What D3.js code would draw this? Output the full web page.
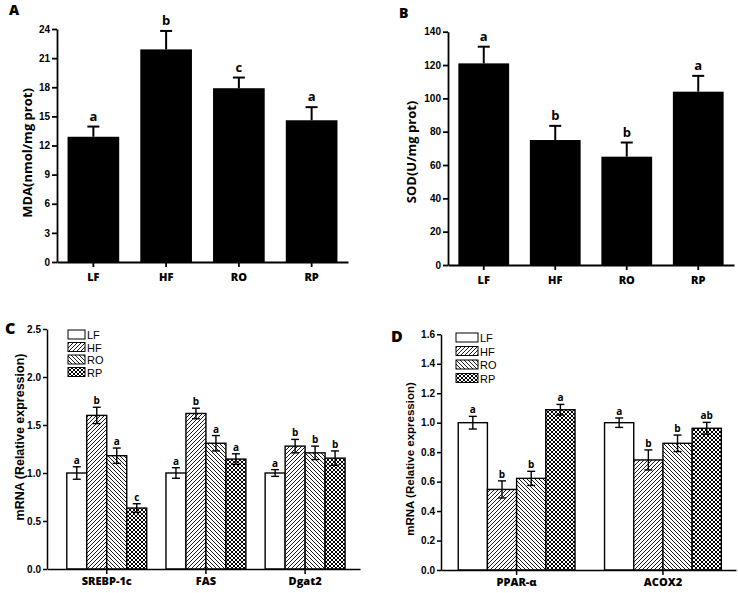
<!DOCTYPE html>
<html><head><meta charset="utf-8">
<script src="https://cdn.jsdelivr.net/npm/d3@7"></script>
<style>
body{margin:0;background:#fff;}
svg{display:block;}
</style></head>
<body>
<svg id="chart" width="738" height="593"></svg>
<script>
// ---------- DATA ----------
const groups = ["LF", "HF", "RO", "RP"];

const mdaMeans = [12.9, 21.9, 17.9, 14.6];
const mdaErr = [1.05, 1.9, 1.1, 1.35];
const mdaLetters = ["a", "b", "c", "a"];
const mdaTicks = [0, 3, 6, 9, 12, 15, 18, 21, 24];

const sodMeans = [121, 75, 65, 104];
const sodErr = [10, 8.5, 8.5, 9.5];
const sodLetters = ["a", "b", "b", "a"];
const sodTicks = [0, 20, 40, 60, 80, 100, 120, 140];

const genesC = ["SREBP-1c", "FAS", "Dgat2"];
const cLF = [1.0, 1.0, 1.0];
const cHF = [1.6, 1.62, 1.28];
const cRO = [1.18, 1.31, 1.21];
const cRP = [0.635, 1.145, 1.155];
const cLFerr = [0.065, 0.055, 0.035];
const cHFerr = [0.085, 0.055, 0.07];
const cROerr = [0.08, 0.08, 0.07];
const cRPerr = [0.045, 0.055, 0.075];
const cLFlet = ["a", "a", "a"];
const cHFlet = ["b", "b", "b"];
const cROlet = ["a", "a", "b"];
const cRPlet = ["c", "a", "b"];
const cTicks = [0, 0.5, 1.0, 1.5, 2.0, 2.5];

const genesD = ["PPAR-\u03b1", "ACOX2"];
const dLF = [1.0, 1.0];
const dHF = [0.547, 0.747];
const dRO = [0.622, 0.86];
const dRP = [1.088, 0.962];
const dLFerr = [0.043, 0.032];
const dHFerr = [0.058, 0.068];
const dROerr = [0.048, 0.056];
const dRPerr = [0.036, 0.04];
const dLFlet = ["a", "a"];
const dHFlet = ["b", "b"];
const dROlet = ["b", "b"];
const dRPlet = ["a", "ab"];
const dTicks = [0, 0.2, 0.4, 0.6, 0.8, 1.0, 1.2, 1.4, 1.6];

// ---------- SETUP ----------
const svg = d3.select("#chart");
const tickFont = "'Liberation Sans', Arial, sans-serif";
const labFont = "'Open Sans', 'Liberation Sans', sans-serif";

const defs = svg.append("defs");
function hatch(id, d, sw) {
  const p = defs.append("pattern").attr("id", id).attr("patternUnits", "userSpaceOnUse")
    .attr("width", 4).attr("height", 4);
  p.append("rect").attr("width", 4).attr("height", 4).attr("fill", "#fff");
  p.append("path").attr("d", d).attr("stroke", "#000").attr("stroke-width", sw).attr("fill", "none");
}
hatch("pHF", "M-1,1 l2,-2 M0,4 l4,-4 M3,5 l2,-2", 0.9);
hatch("pRO", "M-1,3 l2,2 M0,0 l4,4 M3,-1 l2,2", 0.9);
hatch("pRP", "M-1,1 l2,-2 M0,4 l4,-4 M3,5 l2,-2 M-1,3 l2,2 M0,0 l4,4 M3,-1 l2,2", 1.0);
const fills = {LF: "#fff", HF: "url(#pHF)", RO: "url(#pRO)", RP: "url(#pRP)"};

function styleAxis(g, sw, fs) {
  g.select(".domain").attr("stroke", "#000").attr("stroke-width", sw);
  g.selectAll(".tick line").attr("stroke", "#000").attr("stroke-width", sw);
  g.selectAll(".tick text").attr("fill", "#000").attr("font-family", tickFont)
    .attr("font-weight", "bold").attr("font-size", fs);
}

function panelLabel(txt, x, y, fs) {
  svg.append("text").attr("x", x).attr("y", y).text(txt)
    .attr("font-family", labFont).attr("font-weight", 800).attr("font-size", fs);
}

// ---------- SIMPLE BAR PANELS (A, B) ----------
function simplePanel(o) {
  const g = svg.append("g");
  const x = d3.scaleBand().domain(groups).range([o.x0, o.x1]).paddingInner(0.29).paddingOuter(0.145);
  const y = d3.scaleLinear().domain([0, o.ticks[o.ticks.length - 1]]).range([o.yb, o.yt]);
  const data = groups.map((k, i) => ({k, v: o.means[i], e: o.err[i], l: o.letters[i]}));
  g.selectAll("rect.bar").data(data).join("rect").attr("class", "bar")
    .attr("x", d => x(d.k)).attr("width", x.bandwidth())
    .attr("y", d => y(d.v)).attr("height", d => y(0) - y(d.v)).attr("fill", "#000");
  const cx = d => x(d.k) + x.bandwidth() / 2;
  g.selectAll("line.eb").data(data).join("line").attr("class", "eb")
    .attr("x1", cx).attr("x2", cx).attr("y1", d => y(d.v)).attr("y2", d => y(d.v + d.e))
    .attr("stroke", "#000").attr("stroke-width", 2);
  g.selectAll("line.cap").data(data).join("line").attr("class", "cap")
    .attr("x1", d => cx(d) - 6).attr("x2", d => cx(d) + 6)
    .attr("y1", d => y(d.v + d.e)).attr("y2", d => y(d.v + d.e))
    .attr("stroke", "#000").attr("stroke-width", 2);
  g.selectAll("text.let").data(data).join("text").attr("class", "let")
    .attr("x", cx).attr("y", d => y(d.v + d.e) - 6).attr("text-anchor", "middle")
    .attr("font-family", labFont).attr("font-weight", "bold").attr("font-size", 13).text(d => d.l);
  const ya = g.append("g").attr("transform", `translate(${o.x0},0)`)
    .call(d3.axisLeft(y).tickValues(o.ticks).tickSize(5).tickPadding(2).tickSizeOuter(0));
  styleAxis(ya, 1.8, 10);
  const xa = g.append("g").attr("transform", `translate(0,${o.yb})`)
    .call(d3.axisBottom(x).tickSize(5).tickPadding(6).tickSizeOuter(0));
  styleAxis(xa, 1.8, 11);
  xa.selectAll(".tick text").attr("font-family", labFont).attr("font-weight", 800);
  g.append("text").attr("transform", `translate(${o.tx},${o.ty}) rotate(-90)`)
    .attr("text-anchor", "middle").attr("font-family", labFont).attr("font-weight", "bold")
    .attr("font-size", 13).text(o.title);
}

simplePanel({x0: 57, x1: 348, yb: 262, yt: 29, means: mdaMeans, err: mdaErr, letters: mdaLetters,
  ticks: mdaTicks, title: "MDA(nmol/mg prot)", tx: 32, ty: 153});
simplePanel({x0: 448, x1: 734, yb: 265, yt: 31.7, means: sodMeans, err: sodErr, letters: sodLetters,
  ticks: sodTicks, title: "SOD(U/mg prot)", tx: 416, ty: 152});

panelLabel("A", 9, 15, 14);
panelLabel("B", 399, 18, 14);

// ---------- GROUPED PANELS (C, D) ----------
function groupedPanel(o) {
  const g = svg.append("g");
  const x0 = d3.scaleBand().domain(o.genes).range([o.x0, o.x1])
    .paddingInner(o.pi).paddingOuter(o.po).align(o.align);
  const x1 = d3.scaleBand().domain(groups).range([0, x0.bandwidth()]);
  const y = d3.scaleLinear().domain([0, o.ticks[o.ticks.length - 1]]).range([o.yb, o.yt]);
  const data = [];
  o.genes.forEach((gene, gi) => groups.forEach((k, si) => {
    data.push({gene, k, v: o.vals[si][gi], e: o.errs[si][gi], l: o.lets[si][gi]});
  }));
  const bx = d => x0(d.gene) + x1(d.k);
  const cx = d => bx(d) + x1.bandwidth() / 2;
  g.selectAll("rect.bar").data(data).join("rect").attr("class", "bar")
    .attr("x", bx).attr("width", x1.bandwidth())
    .attr("y", d => y(d.v)).attr("height", d => y(0) - y(d.v))
    .attr("fill", d => fills[d.k]).attr("stroke", "#000").attr("stroke-width", 1.4);
  g.selectAll("line.eb").data(data).join("line").attr("class", "eb")
    .attr("x1", cx).attr("x2", cx).attr("y1", d => y(d.v - d.e)).attr("y2", d => y(d.v + d.e))
    .attr("stroke", "#000").attr("stroke-width", 1.4);
  ["+", "-"].forEach(s => {
    g.selectAll("line.cap" + (s === "+" ? "u" : "d")).data(data).join("line")
      .attr("class", "cap" + (s === "+" ? "u" : "d"))
      .attr("x1", d => cx(d) - 4).attr("x2", d => cx(d) + 4)
      .attr("y1", d => y(s === "+" ? d.v + d.e : d.v - d.e))
      .attr("y2", d => y(s === "+" ? d.v + d.e : d.v - d.e))
      .attr("stroke", "#000").attr("stroke-width", 1.4);
  });
  g.selectAll("text.let").data(data).join("text").attr("class", "let")
    .attr("x", cx).attr("y", d => y(d.v + d.e) - 3).attr("text-anchor", "middle")
    .attr("font-family", labFont).attr("font-weight", "bold").attr("font-size", 10).text(d => d.l);
  const ya = g.append("g").attr("transform", `translate(${o.x0},0)`)
    .call(d3.axisLeft(y).tickValues(o.ticks).tickFormat(d3.format(".1f")).tickSize(4).tickPadding(2).tickSizeOuter(0));
  styleAxis(ya, 1.5, 10);
  const xa = g.append("g").attr("transform", `translate(0,${o.yb})`)
    .call(d3.axisBottom(x0).tickSize(5).tickPadding(3).tickSizeOuter(0));
  styleAxis(xa, 1.5, 11);
  xa.selectAll(".tick text").attr("font-family", labFont).attr("font-weight", 800);
  g.append("text").attr("transform", `translate(${o.tx},${o.ty}) rotate(-90)`)
    .attr("text-anchor", "middle").attr("font-family", tickFont).attr("font-weight", "bold")
    .attr("font-size", o.tfs).text("mRNA (Relative expression)");
  // legend
  const lg = g.append("g");
  groups.forEach((k, i) => {
    const yy = o.ly + i * o.lstep;
    lg.append("rect").attr("x", o.lx).attr("y", yy).attr("width", o.lw).attr("height", 9)
      .attr("fill", fills[k]).attr("stroke", "#000").attr("stroke-width", 1);
    lg.append("text").attr("x", o.lx + o.lw + 2).attr("y", yy + 9).text(k)
      .attr("font-family", tickFont).attr("font-size", 11);
  });
}

groupedPanel({genes: genesC, vals: [cLF, cHF, cRO, cRP], errs: [cLFerr, cHFerr, cROerr, cRPerr],
  lets: [cLFlet, cHFlet, cROlet, cRPlet], ticks: cTicks,
  x0: 47, x1: 360, pi: 0.194, po: 0.175, align: 0.57, yb: 569, yt: 329,
  tx: 24, ty: 437, tfs: 12.5, lx: 68, ly: 330, lstep: 12.5, lw: 17});
groupedPanel({genes: genesD, vals: [dLF, dHF, dRO, dRP], errs: [dLFerr, dHFerr, dROerr, dRPerr],
  lets: [dLFlet, dHFlet, dROlet, dRPlet], ticks: dTicks,
  x0: 441, x1: 736, pi: 0.202, po: 0.109, align: 0.54, yb: 570, yt: 334.3,
  tx: 414, ty: 459, tfs: 11.5, lx: 456, ly: 333, lstep: 13.5, lw: 22});

panelLabel("C", 5, 334, 16);
panelLabel("D", 391, 342, 16);
</script>
</body></html>
